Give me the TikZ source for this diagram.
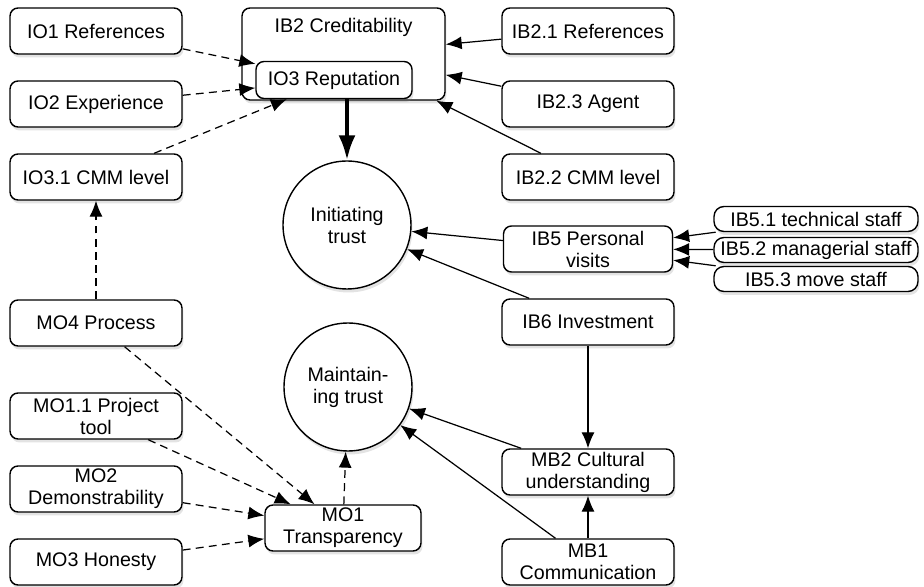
\documentclass[tikz,border=0pt]{standalone}
\usepackage{fontspec}
\setmainfont{Liberation Sans}
\usetikzlibrary{arrows.meta,shadows}

\tikzset{
	boxshadow/.style={drop shadow={shadow xshift=0.3mm, shadow yshift=-0.7mm, opacity=0.22}},
	obox/.style={draw, line width=0.8pt, rounded corners=0.16cm, fill=white, boxshadow, minimum width=3.44cm, minimum height=0.92cm, align=center, inner sep=1pt},
	smallbox/.style={obox, minimum width=4.08cm, minimum height=0.5cm, rounded corners=0.2cm},
	trust/.style={draw, circle, line width=0.8pt, fill=white, boxshadow, minimum size=2.56cm, align=center, inner sep=0pt},
	linkarrow/.style={-{Latex[length=3.2mm,width=2.6mm]}, line width=0.7pt},
	dashlink/.style={linkarrow, dash pattern=on 4.5pt off 3pt},
	mainlink/.style={-{Latex[length=5mm,width=3.4mm]}, line width=2.3pt}
}

\begin{document}
\begin{tikzpicture}[x=0.02cm, y=-0.02cm, font=\fontsize{11.2}{12.5}\selectfont]
		%%%%% START %%%%%
		\useasboundingbox (0, 0) rectangle (924, 587);
		
		% left column
		\node[obox] (io1) at (96, 31) {IO1 References};
		\node[obox] (io2) at (96, 104) {IO2 Experience};
		\node[obox] (io31) at (96, 177) {IO3.1 CMM level};
		\node[obox] (mo4) at (96, 323) {MO4 Process};
		\node[obox] (mo11) at (96, 416) {MO1.1 Project\\tool};
		\node[obox] (mo2) at (96, 489) {MO2\\Demonstrability};
		\node[obox] (mo3) at (96, 562) {MO3 Honesty};
		
		% creditability with reputation inside
		\node[obox, minimum width=4.06cm, minimum height=1.84cm,
			label={[anchor=center, yshift=-0.4cm]north:IB2 Creditability}] (ib2) at (343.5, 54) {};
		\node[obox, minimum width=3.12cm, minimum height=0.74cm] (io3) at (334, 80) {IO3 Reputation};
		
		% trust circles
		\node[trust] (init) at (347, 225) {Initiating\\trust};
		\node[trust] (maint) at (348, 387) {Maintain-\\ing trust};
		\node[obox, minimum width=3.12cm] (mo1) at (343, 528) {MO1\\Transparency};
		
		% right column
		\node[obox] (ib21) at (588, 31) {IB2.1 References};
		\node[obox] (ib23) at (588, 104) {IB2.3 Agent};
		\node[obox] (ib22) at (588, 177) {IB2.2 CMM level};
		\node[obox, minimum width=3.38cm] (ib5) at (588, 249) {IB5 Personal\\visits};
		\node[obox] (ib6) at (588, 322) {IB6 Investment};
		\node[obox] (mb2) at (588, 472) {MB2 Cultural\\understanding};
		\node[obox] (mb1) at (588, 562) {MB1\\Communication};
		
		\node[smallbox] (ib51) at (816, 219) {IB5.1 technical staff};
		\node[smallbox] (ib52) at (816, 250) {IB5.2 managerial staff};
		\node[smallbox] (ib53) at (816, 279) {IB5.3 move staff};
		
		% links
		\draw[dashlink] (io1) -- (io3);
		\draw[dashlink] (io2) -- (io3);
		\draw[dashlink] (io31) -- (io3);
		\draw[dashlink] (mo4) -- (io31);
		\draw[mainlink] (io3.south -| init) -- (init);
		
		\draw[linkarrow] (ib21) -- (ib2);
		\draw[linkarrow] (ib23) -- (ib2);
		\draw[linkarrow] (ib22) -- (ib2);
		
		\draw[linkarrow] (ib5) -- (init);
		\draw[linkarrow] (ib6) -- (init);
		\draw[linkarrow] (ib51) -- (ib5);
		\draw[linkarrow] (ib52) -- (ib5);
		\draw[linkarrow] (ib53) -- (ib5);
		
		\draw[linkarrow] (ib6) -- (mb2);
		\draw[linkarrow] (mb1) -- (mb2);
		\draw[linkarrow] (mb2) -- (maint);
		\draw[linkarrow] (mb1) -- (maint);
		
		\draw[dashlink] (mo1) -- (maint);
		\draw[dashlink] (mo4) -- (mo1);
		\draw[dashlink] (mo11) -- (mo1);
		\draw[dashlink] (mo2) -- (mo1);
		\draw[dashlink] (mo3) -- (mo1);
		
		%%%%% END %%%%%
	\end{tikzpicture}
\end{document}
